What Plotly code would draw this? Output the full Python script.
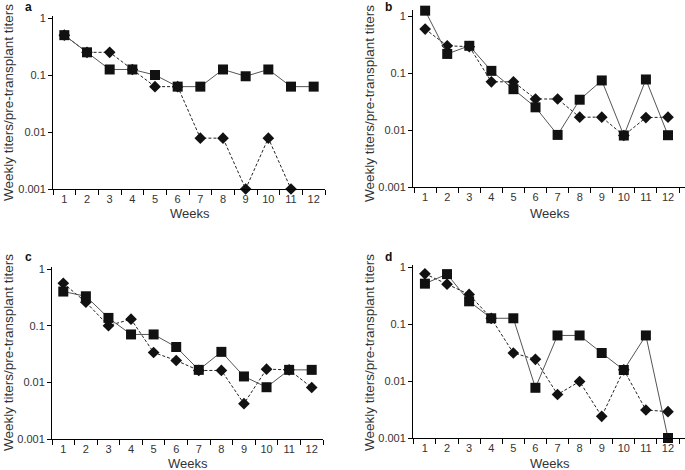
import plotly.graph_objects as go

weeks = list(range(1, 13))

a_square = [0.5, 0.25, 0.125, 0.125, 0.1, 0.0625, 0.0625, 0.125, 0.095, 0.125, 0.0625, 0.0625]
a_diamond = [0.5, 0.25, 0.25, 0.125, 0.0625, 0.0625, 0.0078, 0.0078, 0.001, 0.0078, 0.001, None]

b_square = [1.24, 0.216, 0.3, 0.109, 0.052, 0.025, 0.0082, 0.034, 0.074, 0.008, 0.077, 0.0081]
b_diamond = [0.59, 0.3, 0.29, 0.07, 0.07, 0.035, 0.035, 0.0168, 0.0168, 0.008, 0.0165, 0.0168]

c_square = [0.4, 0.33, 0.137, 0.07, 0.07, 0.042, 0.0166, 0.0345, 0.0127, 0.0082, 0.0166, 0.0166]
c_diamond = [0.56, 0.26, 0.1, 0.13, 0.0336, 0.0243, 0.0162, 0.0162, 0.0042, 0.0171, 0.0166, 0.0081]

d_square = [0.51, 0.75, 0.25, 0.126, 0.126, 0.0076, 0.063, 0.063, 0.031, 0.0156, 0.063, 0.001]
d_diamond = [0.76, 0.5, 0.33, 0.126, 0.031, 0.024, 0.0058, 0.0098, 0.0024, 0.0157, 0.0031, 0.0029]

panel_letters = ["a", "b", "c", "d"]
y_ticks = [0.001, 0.01, 0.1, 1]
y_tick_text = ["0.001", "0.01", "0.1", "1"]
x_title = "Weeks"
y_title = "Weekly titers/pre-transplant titers"

W, H = 685, 470
FONT = "Liberation Sans, Arial, sans-serif"
TXT = "#333333"

# layout geometry in pixels: (x_axis_left, x_axis_right, x_range, y_px_at_1, y_px_at_0.001, y_top_ext)
geom = [
    (53, 325, [0.5, 12.5], 18, 189, 0.03),
    (413, 685, [0.45, 12.77], 16, 187, 0.1),
    (52, 323, [0.5, 12.5], 269, 439, 0.03),
    (413, 685, [0.46, 12.77], 267, 438, 0.03),
]
title_pos = [
    # (letter_x, letter_y, weeks_x, weeks_y, ytitle_x, ytitle_y)
    (28, 7, 190, 213, 8, 103),
    (388, 7, 550, 213, 369, 104),
    (28, 257, 188, 463, 8, 353),
    (388, 257, 550, 463, 369, 353),
]

data = [(a_square, a_diamond), (b_square, b_diamond), (c_square, c_diamond), (d_square, d_diamond)]

fig = go.Figure()
annotations = []
for i, ((sq, di), g, tp) in enumerate(zip(data, geom, title_pos)):
    n = i + 1
    xa = "x" if n == 1 else f"x{n}"
    ya = "y" if n == 1 else f"y{n}"
    fig.add_trace(go.Scatter(
        x=weeks, y=di, mode="lines+markers", xaxis=xa, yaxis=ya,
        line=dict(color="#222222", width=1, dash="3px,2px"),
        marker=dict(symbol="diamond", size=9, color="#111111"),
        cliponaxis=False, showlegend=False, connectgaps=False))
    fig.add_trace(go.Scatter(
        x=weeks, y=sq, mode="lines+markers", xaxis=xa, yaxis=ya,
        line=dict(color="#555555", width=1),
        marker=dict(symbol="square", size=10, color="#111111"),
        cliponaxis=False, showlegend=False))

    xl, xr, xrng, y1, y3, ext = g
    dec = (y3 - y1) / 3.0
    top_px = y1 - ext * dec
    xkey = "xaxis" if n == 1 else f"xaxis{n}"
    ykey = "yaxis" if n == 1 else f"yaxis{n}"
    fig.update_layout({
        xkey: dict(domain=[xl / W, xr / W], range=xrng, anchor=ya, automargin=False,
                   tickvals=weeks, ticktext=[str(w) for w in weeks], ticks="",
                   showgrid=False, zeroline=False, showline=True, linecolor="black", linewidth=1,
                   tickfont=dict(family=FONT, size=11, color=TXT),
                   minor=dict(tickvals=[w + 0.5 for w in range(0, 13)], ticks="outside",
                              ticklen=5, tickcolor="black", tickwidth=1, showgrid=False)),
        ykey: dict(domain=[1 - y3 / H, 1 - top_px / H], type="log", range=[-3, ext], anchor=xa,
                   automargin=False,
                   tickvals=y_ticks, ticktext=y_tick_text, ticks="outside", ticklen=4,
                   tickcolor="black", showgrid=False, zeroline=False, showline=True,
                   linecolor="black", linewidth=1,
                   tickfont=dict(family=FONT, size=11, color=TXT)),
    })
    lx, ly, wx, wy, tx, ty = tp
    common = dict(xref="paper", yref="paper", showarrow=False, xanchor="center", yanchor="middle")
    annotations.append(dict(text=f"<b>{panel_letters[i]}</b>", x=lx / W, y=1 - ly / H,
                            font=dict(family=FONT, size=12, color="#111111"), **common))
    annotations.append(dict(text=x_title, x=wx / W, y=1 - wy / H,
                            font=dict(family=FONT, size=13, color=TXT), **common))
    annotations.append(dict(text=y_title, x=tx / W, y=1 - ty / H, textangle=-90,
                            font=dict(family=FONT, size=13.5, color=TXT), **common))

fig.update_layout(width=W, height=H, margin=dict(l=0, r=0, t=0, b=0),
                  paper_bgcolor="white", plot_bgcolor="white", annotations=annotations)
fig.write_html("out.html", config={"displayModeBar": False},
               post_script="document.body.style.margin='0';document.body.style.padding='0';")
